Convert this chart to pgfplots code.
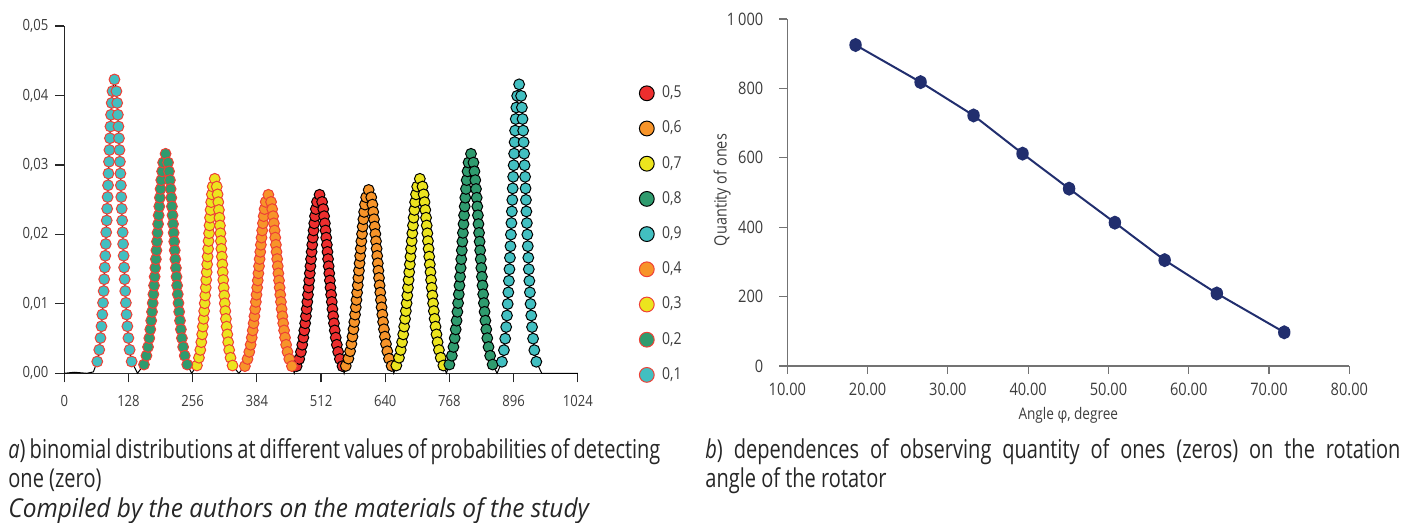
\documentclass[border=0pt]{standalone}
\usepackage{pgfplots}
\pgfplotsset{compat=1.18}
\usepackage{pgfplotstable}
\usepackage{fontspec}
\setmainfont{Open Sans}[FakeStretch=0.85]
\newfontfamily\capfont{Open Sans}[FakeStretch=0.77]
\newfontfamily\capitfont{Open Sans}[FakeStretch=0.94]
\definecolor{cred}{RGB}{237,46,46}
\definecolor{corange}{RGB}{247,148,41}
\definecolor{cyellow}{RGB}{236,228,30}
\definecolor{cgreen}{RGB}{47,155,110}
\definecolor{cteal}{RGB}{66,191,193}
\definecolor{edgered}{RGB}{238,64,54}
\definecolor{navy}{RGB}{33,46,110}
\definecolor{txt}{RGB}{60,60,60}

% p = 0.1
\pgfplotstableread[row sep=\\]{
x y\\
65.7 0.00169\\ 69.7 0.00338\\ 72.2 0.00508\\ 74.2 0.00677\\ 75.8 0.00846\\ 77.2 0.01015\\ 78.5 0.01184\\ 79.6 0.01354\\ 80.7 0.01523\\ 81.7 0.01692\\ 82.7 0.01861\\ 83.6 0.02030\\ 84.6 0.02200\\ 85.5 0.02369\\ 86.4 0.02538\\ 87.2 0.02707\\ 88.1 0.02876\\ 89.1 0.03046\\ 90.0 0.03215\\ 91.0 0.03384\\ 92.0 0.03553\\ 93.2 0.03722\\ 94.5 0.03892\\ 96.1 0.04061\\ 100 0.04230\\ 103.9 0.04061\\ 105.5 0.03892\\ 106.8 0.03722\\ 108.0 0.03553\\ 109.0 0.03384\\ 110.0 0.03215\\ 110.9 0.03046\\ 111.9 0.02876\\ 112.8 0.02707\\ 113.6 0.02538\\ 114.5 0.02369\\ 115.4 0.02200\\ 116.4 0.02030\\ 117.3 0.01861\\ 118.3 0.01692\\ 119.3 0.01523\\ 120.4 0.01354\\ 121.5 0.01184\\ 122.8 0.01015\\ 124.2 0.00846\\ 125.8 0.00677\\ 127.8 0.00508\\ 130.3 0.00338\\ 134.3 0.00169\\
}\tA
% p = 0.2
\pgfplotstableread[row sep=\\]{
x y\\
158.9 0.00126\\ 163.8 0.00253\\ 167.0 0.00379\\ 169.5 0.00506\\ 171.5 0.00632\\ 173.3 0.00758\\ 174.9 0.00885\\ 176.3 0.01011\\ 177.7 0.01138\\ 179.0 0.01264\\ 180.2 0.01390\\ 181.4 0.01517\\ 182.6 0.01643\\ 183.7 0.01770\\ 184.8 0.01896\\ 185.9 0.02022\\ 187.1 0.02149\\ 188.2 0.02275\\ 189.4 0.02402\\ 190.6 0.02528\\ 192.0 0.02654\\ 193.4 0.02781\\ 195.1 0.02907\\ 197.1 0.03034\\ 202 0.03160\\ 206.9 0.03034\\ 208.9 0.02907\\ 210.6 0.02781\\ 212.0 0.02654\\ 213.4 0.02528\\ 214.6 0.02402\\ 215.8 0.02275\\ 216.9 0.02149\\ 218.1 0.02022\\ 219.2 0.01896\\ 220.3 0.01770\\ 221.4 0.01643\\ 222.6 0.01517\\ 223.8 0.01390\\ 225.0 0.01264\\ 226.3 0.01138\\ 227.7 0.01011\\ 229.1 0.00885\\ 230.7 0.00758\\ 232.5 0.00632\\ 234.5 0.00506\\ 237.0 0.00379\\ 240.2 0.00253\\ 245.1 0.00126\\
}\tB
% p = 0.3
\pgfplotstableread[row sep=\\]{
x y\\
264.5 0.00112\\ 268.5 0.00224\\ 271.2 0.00336\\ 273.2 0.00448\\ 274.9 0.00560\\ 276.3 0.00672\\ 277.7 0.00784\\ 278.9 0.00896\\ 280.0 0.01008\\ 281.0 0.01120\\ 282.1 0.01232\\ 283.0 0.01344\\ 284.0 0.01456\\ 284.9 0.01568\\ 285.8 0.01680\\ 286.8 0.01792\\ 287.7 0.01904\\ 288.7 0.02016\\ 289.6 0.02128\\ 290.6 0.02240\\ 291.7 0.02352\\ 292.9 0.02464\\ 294.3 0.02576\\ 296.0 0.02688\\ 300 0.02800\\ 304.0 0.02688\\ 305.7 0.02576\\ 307.1 0.02464\\ 308.3 0.02352\\ 309.4 0.02240\\ 310.4 0.02128\\ 311.3 0.02016\\ 312.3 0.01904\\ 313.2 0.01792\\ 314.2 0.01680\\ 315.1 0.01568\\ 316.0 0.01456\\ 317.0 0.01344\\ 317.9 0.01232\\ 319.0 0.01120\\ 320.0 0.01008\\ 321.1 0.00896\\ 322.3 0.00784\\ 323.7 0.00672\\ 325.1 0.00560\\ 326.8 0.00448\\ 328.8 0.00336\\ 331.5 0.00224\\ 335.5 0.00112\\
}\tC
% p = 0.4
\pgfplotstableread[row sep=\\]{
x y\\
360.1 0.00103\\ 365.4 0.00206\\ 368.9 0.00308\\ 371.6 0.00411\\ 373.8 0.00514\\ 375.7 0.00617\\ 377.5 0.00720\\ 379.1 0.00822\\ 380.6 0.00925\\ 382.0 0.01028\\ 383.3 0.01131\\ 384.6 0.01234\\ 385.8 0.01336\\ 387.1 0.01439\\ 388.3 0.01542\\ 389.5 0.01645\\ 390.8 0.01748\\ 392.0 0.01850\\ 393.3 0.01953\\ 394.6 0.02056\\ 396.1 0.02159\\ 397.6 0.02262\\ 399.4 0.02364\\ 401.7 0.02467\\ 407 0.02570\\ 412.3 0.02467\\ 414.6 0.02364\\ 416.4 0.02262\\ 417.9 0.02159\\ 419.4 0.02056\\ 420.7 0.01953\\ 422.0 0.01850\\ 423.2 0.01748\\ 424.5 0.01645\\ 425.7 0.01542\\ 426.9 0.01439\\ 428.2 0.01336\\ 429.4 0.01234\\ 430.7 0.01131\\ 432.0 0.01028\\ 433.4 0.00925\\ 434.9 0.00822\\ 436.5 0.00720\\ 438.3 0.00617\\ 440.2 0.00514\\ 442.4 0.00411\\ 445.1 0.00308\\ 448.6 0.00206\\ 453.9 0.00103\\
}\tD
% p = 0.5
\pgfplotstableread[row sep=\\]{
x y\\
463.3 0.00103\\ 468.5 0.00206\\ 471.9 0.00308\\ 474.5 0.00411\\ 476.7 0.00514\\ 478.6 0.00617\\ 480.3 0.00720\\ 481.8 0.00822\\ 483.3 0.00925\\ 484.6 0.01028\\ 485.9 0.01131\\ 487.2 0.01234\\ 488.4 0.01336\\ 489.6 0.01439\\ 490.8 0.01542\\ 492.0 0.01645\\ 493.2 0.01748\\ 494.4 0.01850\\ 495.7 0.01953\\ 497.0 0.02056\\ 498.4 0.02159\\ 499.9 0.02262\\ 501.6 0.02364\\ 503.9 0.02467\\ 509 0.02570\\ 514.1 0.02467\\ 516.4 0.02364\\ 518.1 0.02262\\ 519.6 0.02159\\ 521.0 0.02056\\ 522.3 0.01953\\ 523.6 0.01850\\ 524.8 0.01748\\ 526.0 0.01645\\ 527.2 0.01542\\ 528.4 0.01439\\ 529.6 0.01336\\ 530.8 0.01234\\ 532.1 0.01131\\ 533.4 0.01028\\ 534.7 0.00925\\ 536.2 0.00822\\ 537.7 0.00720\\ 539.4 0.00617\\ 541.3 0.00514\\ 543.5 0.00411\\ 546.1 0.00308\\ 549.5 0.00206\\ 554.7 0.00103\\
}\tE
% p = 0.6
\pgfplotstableread[row sep=\\]{
x y\\
561.3 0.00106\\ 566.5 0.00211\\ 569.9 0.00317\\ 572.5 0.00422\\ 574.7 0.00528\\ 576.6 0.00634\\ 578.3 0.00739\\ 579.8 0.00845\\ 581.3 0.00950\\ 582.6 0.01056\\ 583.9 0.01162\\ 585.2 0.01267\\ 586.4 0.01373\\ 587.6 0.01478\\ 588.8 0.01584\\ 590.0 0.01690\\ 591.2 0.01795\\ 592.4 0.01901\\ 593.7 0.02006\\ 595.0 0.02112\\ 596.4 0.02218\\ 597.9 0.02323\\ 599.6 0.02429\\ 601.9 0.02534\\ 607 0.02640\\ 612.1 0.02534\\ 614.4 0.02429\\ 616.1 0.02323\\ 617.6 0.02218\\ 619.0 0.02112\\ 620.3 0.02006\\ 621.6 0.01901\\ 622.8 0.01795\\ 624.0 0.01690\\ 625.2 0.01584\\ 626.4 0.01478\\ 627.6 0.01373\\ 628.8 0.01267\\ 630.1 0.01162\\ 631.4 0.01056\\ 632.7 0.00950\\ 634.2 0.00845\\ 635.7 0.00739\\ 637.4 0.00634\\ 639.3 0.00528\\ 641.5 0.00422\\ 644.1 0.00317\\ 647.5 0.00211\\ 652.7 0.00106\\
}\tF
% p = 0.7
\pgfplotstableread[row sep=\\]{
x y\\
662.1 0.00112\\ 667.4 0.00224\\ 670.9 0.00336\\ 673.6 0.00448\\ 675.8 0.00560\\ 677.7 0.00672\\ 679.5 0.00784\\ 681.1 0.00896\\ 682.6 0.01008\\ 684.0 0.01120\\ 685.3 0.01232\\ 686.6 0.01344\\ 687.8 0.01456\\ 689.1 0.01568\\ 690.3 0.01680\\ 691.5 0.01792\\ 692.8 0.01904\\ 694.0 0.02016\\ 695.3 0.02128\\ 696.6 0.02240\\ 698.1 0.02352\\ 699.6 0.02464\\ 701.4 0.02576\\ 703.7 0.02688\\ 709 0.02800\\ 714.3 0.02688\\ 716.6 0.02576\\ 718.4 0.02464\\ 719.9 0.02352\\ 721.4 0.02240\\ 722.7 0.02128\\ 724.0 0.02016\\ 725.2 0.01904\\ 726.5 0.01792\\ 727.7 0.01680\\ 728.9 0.01568\\ 730.2 0.01456\\ 731.4 0.01344\\ 732.7 0.01232\\ 734.0 0.01120\\ 735.4 0.01008\\ 736.9 0.00896\\ 738.5 0.00784\\ 740.3 0.00672\\ 742.2 0.00560\\ 744.4 0.00448\\ 747.1 0.00336\\ 750.6 0.00224\\ 755.9 0.00112\\
}\tG
% p = 0.8
\pgfplotstableread[row sep=\\]{
x y\\
767.9 0.00126\\ 772.8 0.00253\\ 776.0 0.00379\\ 778.5 0.00506\\ 780.5 0.00632\\ 782.3 0.00758\\ 783.9 0.00885\\ 785.3 0.01011\\ 786.7 0.01138\\ 788.0 0.01264\\ 789.2 0.01390\\ 790.4 0.01517\\ 791.6 0.01643\\ 792.7 0.01770\\ 793.8 0.01896\\ 794.9 0.02022\\ 796.1 0.02149\\ 797.2 0.02275\\ 798.4 0.02402\\ 799.6 0.02528\\ 801.0 0.02654\\ 802.4 0.02781\\ 804.1 0.02907\\ 806.1 0.03034\\ 811 0.03160\\ 815.9 0.03034\\ 817.9 0.02907\\ 819.6 0.02781\\ 821.0 0.02654\\ 822.4 0.02528\\ 823.6 0.02402\\ 824.8 0.02275\\ 825.9 0.02149\\ 827.1 0.02022\\ 828.2 0.01896\\ 829.3 0.01770\\ 830.4 0.01643\\ 831.6 0.01517\\ 832.8 0.01390\\ 834.0 0.01264\\ 835.3 0.01138\\ 836.7 0.01011\\ 838.1 0.00885\\ 839.7 0.00758\\ 841.5 0.00632\\ 843.5 0.00506\\ 846.0 0.00379\\ 849.2 0.00253\\ 854.1 0.00126\\
}\tH
% p = 0.9
\pgfplotstableread[row sep=\\]{
x y\\
872.7 0.00166\\ 876.7 0.00333\\ 879.2 0.00499\\ 881.2 0.00666\\ 882.8 0.00832\\ 884.2 0.00998\\ 885.5 0.01165\\ 886.6 0.01331\\ 887.7 0.01498\\ 888.7 0.01664\\ 889.7 0.01830\\ 890.6 0.01997\\ 891.6 0.02163\\ 892.5 0.02330\\ 893.4 0.02496\\ 894.2 0.02662\\ 895.1 0.02829\\ 896.1 0.02995\\ 897.0 0.03162\\ 898.0 0.03328\\ 899.0 0.03494\\ 900.2 0.03661\\ 901.5 0.03827\\ 903.1 0.03994\\ 907 0.04160\\ 910.9 0.03994\\ 912.5 0.03827\\ 913.8 0.03661\\ 915.0 0.03494\\ 916.0 0.03328\\ 917.0 0.03162\\ 917.9 0.02995\\ 918.9 0.02829\\ 919.8 0.02662\\ 920.6 0.02496\\ 921.5 0.02330\\ 922.4 0.02163\\ 923.4 0.01997\\ 924.3 0.01830\\ 925.3 0.01664\\ 926.3 0.01498\\ 927.4 0.01331\\ 928.5 0.01165\\ 929.8 0.00998\\ 931.2 0.00832\\ 932.8 0.00666\\ 934.8 0.00499\\ 937.3 0.00333\\ 941.3 0.00166\\
}\tI

\pgfplotsset{
  dist/.style 2 args={black, line width=0.5pt, mark=*, mark size=2.7pt,
    mark options={solid, fill=#1, draw=#2, line width=0.5pt}},
  conn/.style={black, line width=0.5pt, forget plot, no marks},
}

\begin{document}
\begin{tikzpicture}
\useasboundingbox (0,0) rectangle (707.5pt,261.5pt);

\begin{axis}[
  at={(32.15pt,74.85pt)}, anchor=south west,
  scale only axis, width=256.75pt, height=173.65pt,
  xmin=0, xmax=1024, ymin=0, ymax=0.05,
  axis x line=bottom, axis y line=left,
  axis line style={-, draw=black!85, line width=0.6pt},
  xtick={0,128,256,384,512,640,768,896,1024},
  xticklabels={0,128,256,384,512,640,768,896,1024},
  ytick={0,0.01,0.02,0.03,0.04,0.05},
  yticklabels={{0,00},{0,01},{0,02},{0,03},{0,04},{0,05}},
  scaled y ticks=false,
  tick align=outside, major tick length=4.5pt,
  tick style={draw=black!85, line width=0.6pt},
  /pgf/number format/assume math mode=true,
  ticklabel style={font=\fontsize{7.7}{9}\selectfont, text=txt},
  xticklabel style={yshift=-3pt},
  clip=false,
  legend style={at={(axis description cs:1.12,0.8569)}, anchor=north west,
    draw=none, fill=none, inner sep=0pt, outer sep=0pt, row sep=0pt, column sep=4pt,
    font=\fontsize{8.2}{9}\selectfont, text=txt,
    nodes={inner sep=0pt, minimum height=17.6pt, anchor=west}},
  legend cell align=left,
  legend image code/.code={\draw[#1, mark size=3.7pt] plot coordinates {(0pt,0pt)};},
]
\addplot[conn] coordinates {(0,0) (20,0.00015) (45,0) (58,0.0002) (65.7,0.00169)};
\addplot[conn] coordinates {(134.3,0.00169) (146,0) (158.9,0.00126)};
\addplot[conn] coordinates {(245.1,0.00126) (254,0) (264.5,0.00112)};
\addplot[conn] coordinates {(335.5,0.00112) (348,0) (360.1,0.00103)};
\addplot[conn] coordinates {(453.9,0.00103) (458.5,0) (463.3,0.00103)};
\addplot[conn] coordinates {(554.7,0.00103) (558,0) (561.3,0.00106)};
\addplot[conn] coordinates {(652.7,0.00106) (657,0) (662.1,0.00112)};
\addplot[conn] coordinates {(755.9,0.00112) (762,0) (767.9,0.00126)};
\addplot[conn] coordinates {(854.1,0.00126) (863,0) (872.7,0.00166)};
\addplot[conn] coordinates {(941.3,0.00166) (952,0) (1024,0)};

\addplot[dist={cred}{black}] table[x=x,y=y] {\tE}; \addlegendentry{0,5}
\addplot[dist={corange}{black}] table[x=x,y=y] {\tF}; \addlegendentry{0,6}
\addplot[dist={cyellow}{black}] table[x=x,y=y] {\tG}; \addlegendentry{0,7}
\addplot[dist={cgreen}{black}] table[x=x,y=y] {\tH}; \addlegendentry{0,8}
\addplot[dist={cteal}{black}] table[x=x,y=y] {\tI}; \addlegendentry{0,9}
\addplot[dist={corange}{edgered}] table[x=x,y=y] {\tD}; \addlegendentry{0,4}
\addplot[dist={cyellow}{edgered}] table[x=x,y=y] {\tC}; \addlegendentry{0,3}
\addplot[dist={cgreen}{edgered}] table[x=x,y=y] {\tB}; \addlegendentry{0,2}
\addplot[dist={cteal}{edgered}] table[x=x,y=y] {\tA}; \addlegendentry{0,1}
\end{axis}

\begin{axis}[
  at={(393.65pt,78.5pt)}, anchor=south west,
  scale only axis, width=281pt, height=173.5pt,
  xmin=10, xmax=80, ymin=0, ymax=1000,
  axis x line=bottom, axis y line=left,
  axis line style={-, draw=black!55, line width=0.6pt},
  xtick={10,20,30,40,50,60,70,80},
  xticklabels={10.00,20.00,30.00,40.00,50.00,60.00,70.00,80.00},
  ytick={0,200,400,600,800,1000},
  yticklabels={0,200,400,600,800,{1\,000}},
  tick align=outside, major tick length=4pt,
  tick style={draw=black!55, line width=0.6pt},
  /pgf/number format/assume math mode=true,
  ticklabel style={font=\fontsize{8.6}{10}\selectfont, text=txt},
  yticklabel style={xshift=-4.5pt},
  xticklabel style={yshift=-1pt},
  xlabel={Angle φ, degree}, ylabel={Quantity of ones},
  every axis x label/.style={at={(axis description cs:0.5,-0.142)}, anchor=center, font=\fontsize{8}{10}\selectfont, text=txt},
  every axis y label/.style={at={(axis description cs:-0.116,0.507)}, anchor=center, rotate=90, font=\fontsize{8.5}{10}\selectfont, text=txt},
  clip=false,
]
\addplot[navy, line width=1pt, mark=*, mark size=2.6pt, mark options={solid, fill=navy, draw=navy, yscale=1.15}]
  coordinates {(18.5,925) (26.6,818) (33.2,722) (39.3,612) (45.1,511) (50.8,413) (57.0,305) (63.5,209) (71.9,97)};
\end{axis}

\begin{scope}[every node/.style={inner sep=0pt, anchor=base west, text=black!85, font=\capfont\fontsize{13}{15}\selectfont}]
\node at (4pt,32pt) {\makebox[326pt][s]{\textit{a}) binomial distributions at different values of probabilities of detecting}};
\node at (4pt,17.5pt) {one (zero)};
\node[font=\capitfont\itshape\fontsize{13}{15}\selectfont] at (4pt,2.5pt) {Compiled by the authors on the materials of the study};
\node at (352.5pt,32pt) {\makebox[347.5pt][s]{\textit{b}) dependences of observing quantity of ones (zeros) on the rotation}};
\node at (352.5pt,17.5pt) {angle of the rotator};
\end{scope}
\end{tikzpicture}
\end{document}
